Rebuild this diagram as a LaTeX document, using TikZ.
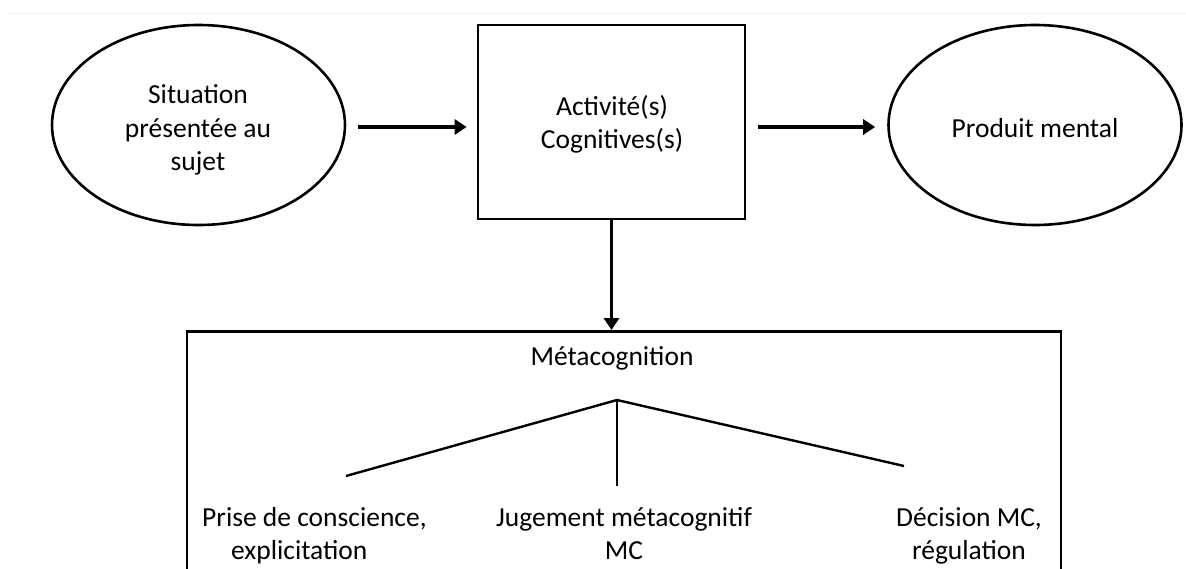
\documentclass[tikz,border=0pt]{standalone}
\usepackage{fontspec}
\setmainfont{Carlito}
\usetikzlibrary{shapes.geometric,arrows.meta}
\definecolor{faint}{RGB}{240,240,240}
\begin{document}
\begin{tikzpicture}[x=1pt,y=-1pt,
  txt/.style={font=\fontsize{27.5}{33.3}\selectfont, align=center, inner sep=0pt},
  oval/.style={ellipse, draw, line width=2.6pt, minimum width=293pt, minimum height=200pt, inner sep=0pt},
  frame/.style={draw, line width=2.6pt, inner sep=0pt},
  arr/.style={line width=3.8pt, -{Triangle[length=12pt,width=15pt]}},
  branch/.style={line width=2.4pt}]
\useasboundingbox (0,0) rectangle (1186,568);
\clip (0,0) rectangle (1186,568);
\fill[white] (0,0) rectangle (1186,568);
\draw[line width=1pt, faint] (8,13) -- (1186,13);

\node[oval] (sit) at (198.5,125) {};
\node[txt] (sittxt) at (198,130) {Situation\\présentée au\\sujet};

\node[frame, minimum width=267pt, minimum height=194pt] (act) at (611.5,122) {};
\node[txt] (acttxt) at (612,124) {Activité(s)\\Cognitives(s)};

\node[oval] (prod) at (1035,125) {};
\node[txt] (prodtxt) at (1035,128) {Produit mental};

\draw[arr] ([xshift=12pt,yshift=-2pt]sit.east) -- ([xshift=-10pt,yshift=-2pt]sit.east -| act.west);
\draw[arr] ([xshift=12pt,yshift=-2pt]prod.west -| act.east) -- ([xshift=-12pt,yshift=-2pt]prod.west);

\node[frame, minimum width=874pt, minimum height=290pt, anchor=north] (meta) at (624,330) {};
\draw[arr] (act.south) -- (act.south |- meta.north);
\node[txt] (metatxt) at (612,358) {Métacognition};

\coordinate (apex) at (617,400);
\coordinate (lb) at (346,476);
\coordinate (rb) at (904,466);
\coordinate (mb) at (617,486);
\draw[branch] (lb) -- (apex) -- (rb);
\draw[branch] (apex) -- (mb);

\node[txt, align=left, anchor=west] (prise) at (202,538.5) {Prise de conscience,\\\hspace*{29pt}explicitation\strut};
\node[txt] (jug) at (624,538.5) {Jugement métacognitif\\MC\strut};
\node[txt] (dec) at (969,538.5) {Décision MC,\\régulation\strut};
\end{tikzpicture}
\end{document}
